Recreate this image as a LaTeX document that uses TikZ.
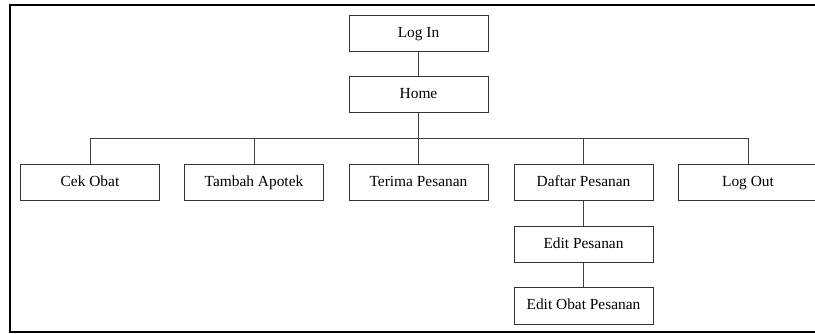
\documentclass[tikz,border=0pt]{standalone}
\usepackage{fontspec}
\setmainfont{Liberation Serif}
\begin{document}
\begin{tikzpicture}[x=1pt,y=-1pt,
  menubox/.style={draw=black!80, line width=1pt, rectangle, minimum width=139pt, minimum height=36pt, inner sep=0pt, text height=10.5pt, text depth=3pt, font=\fontsize{15.4}{18}\selectfont},
  link/.style={draw=black!75, line width=1pt}]
\useasboundingbox (0,0) rectangle (815,334);
\fill[white] (0,0) rectangle (815,334);
\draw[line width=2pt, black] (10,5) rectangle (840,332);
\node[menubox] (login) at (418.5,34) {Log In};
\node[menubox] (home) at (418.5,95) {Home};
\node[menubox] (cek) at (90,182.5) {Cek Obat};
\node[menubox] (tambah) at (254,182.5) {Tambah Apotek};
\node[menubox] (terima) at (418.5,182.5) {Terima Pesanan};
\node[menubox] (daftar) at (583.5,182.5) {Daftar Pesanan};
\node[menubox] (logout) at (748,182.5) {Log Out};
\node[menubox] (edit) at (583.5,244.5) {Edit Pesanan};
\node[menubox] (editobat) at (583.5,306) {Edit Obat Pesanan};
\coordinate (bus) at (418.5,139);
\draw[link] (login) -- (home);
\draw[link] (home) -- (bus);
\foreach \c in {cek,tambah,terima,daftar,logout}{
  \draw[link] (bus) -| (\c.north);
}
\draw[link] (daftar) -- (edit);
\draw[link] (edit) -- (editobat);
\end{tikzpicture}
\end{document}
